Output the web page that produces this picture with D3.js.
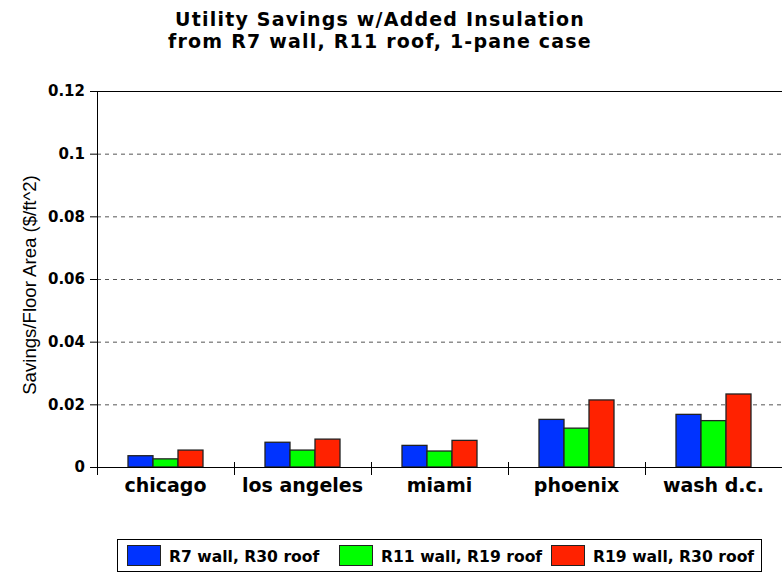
<!DOCTYPE html>
<html>
<head>
<meta charset="utf-8">
<script src="https://cdn.jsdelivr.net/npm/d3@7"></script>
<style>
  body { margin: 0; background: #fff; }
  text { font-family: "DejaVu Sans", sans-serif; }
</style>
</head>
<body>
<div id="chart"></div>
<script>
// data
var cities = ["chicago", "los angeles", "miami", "phoenix", "wash d.c."];
var seriesNames = ["R7 wall, R30 roof", "R11 wall, R19 roof", "R19 wall, R30 roof"];
var seriesColors = ["#0033ff", "#00ff00", "#ff2200"];
var r7r30 = [0.0036, 0.0079, 0.0069, 0.0152, 0.0168];
var r11r19 = [0.0026, 0.0054, 0.0051, 0.0124, 0.0148];
var r19r30 = [0.0054, 0.0089, 0.0085, 0.0214, 0.0233];
var yTicks = [0, 0.02, 0.04, 0.06, 0.08, 0.1, 0.12];
var titleLines = ["Utility Savings w/Added Insulation", "from R7 wall, R11 roof, 1-pane case"];

var series = [r7r30, r11r19, r19r30];

var W = 782, H = 579;
var margin = { top: 91, right: 0, bottom: 112, left: 97 },
  width = W - margin.left - margin.right,
  height = H - margin.top - margin.bottom;

var svg = d3.select("#chart")
  .append("svg")
  .attr("width", W)
  .attr("height", H);

// title, one text per line
svg.selectAll(".titletext")
  .data(titleLines)
  .enter()
  .append("text")
  .attr("class", "titletext")
  .attr("x", 380)
  .attr("y", (d, i) => 26 + i * 22)
  .attr("text-anchor", "middle")
  .attr("font-size", "19px")
  .attr("letter-spacing", "1.2px")
  .attr("font-weight", "bold")
  .text(d => d);

var g = svg.append("g")
  .attr("transform", "translate(" + margin.left + "," + margin.top + ")");

var x = d3.scaleBand().domain(cities).range([0, width]);
var y = d3.scaleLinear().domain([0, 0.12]).range([height, 0]);

var barW = 25;
var xs = d3.scaleBand().domain(d3.range(3)).range([0, barW * 3]);

// grid lines
g.selectAll(".grid")
  .data(yTicks.filter(d => d > 0 && d < 0.12))
  .enter()
  .append("line")
  .attr("x1", 0)
  .attr("x2", width)
  .attr("y1", d => y(d) + 0.5)
  .attr("y2", d => y(d) + 0.5)
  .attr("stroke", "#555")
  .attr("stroke-dasharray", "4,4");

// top border
g.append("line")
  .attr("x1", 0).attr("x2", width)
  .attr("y1", 0.5).attr("y2", 0.5)
  .attr("stroke", "#000");

// bars
series.forEach(function(vals, si) {
  g.selectAll(".bar" + si)
    .data(vals)
    .enter()
    .append("rect")
    .attr("x", (d, i) => x(cities[i]) + x.bandwidth() / 2 - barW * 1.5 + xs(si))
    .attr("y", d => y(d))
    .attr("width", barW)
    .attr("height", d => height - y(d))
    .attr("fill", seriesColors[si])
    .attr("stroke", "#222")
    .attr("stroke-width", 1.3);
});

// y axis
var yAxis = g.append("g")
  .call(d3.axisLeft(y).tickValues(yTicks).tickFormat(d => d === 0 ? "0" : d3.format("~g")(d)).tickSize(7).tickPadding(5));
yAxis.select(".domain").remove();
yAxis.append("line").attr("x1", 0.5).attr("x2", 0.5).attr("y1", 0).attr("y2", height + 8).attr("stroke", "#000");
yAxis.selectAll("text")
  .attr("font-size", "15px")
  .attr("font-weight", "bold")
  .attr("fill", "#000")
  .style("font-family", "'DejaVu Sans', sans-serif");

// x axis
var xAxis = g.append("g").attr("transform", "translate(0," + height + ")");
xAxis.append("line").attr("x1", 0).attr("x2", width).attr("y1", 0.5).attr("y2", 0.5).attr("stroke", "#000");
xAxis.selectAll(".sep")
  .data(cities.slice(1))
  .enter()
  .append("line")
  .attr("x1", d => x(d) + 0.5)
  .attr("x2", d => x(d) + 0.5)
  .attr("y1", -5)
  .attr("y2", 8)
  .attr("stroke", "#000");
xAxis.selectAll(".lbl")
  .data(cities)
  .enter()
  .append("text")
  .attr("x", d => x(d) + x.bandwidth() / 2)
  .attr("y", 25)
  .attr("text-anchor", "middle")
  .attr("font-size", "19px")
  .attr("font-weight", "bold")
  .text(d => d);

// y label
svg.append("text")
  .attr("transform", "translate(36,285) rotate(-90)")
  .attr("text-anchor", "middle")
  .attr("font-size", "18.6px")
  .style("font-family", "'Liberation Sans', Arial, sans-serif")
  .text("Savings/Floor Area ($/ft^2)");

// legend
var leg = svg.append("g");
leg.append("rect")
  .attr("x", 117.5).attr("y", 539.5)
  .attr("width", 644).attr("height", 32)
  .attr("fill", "#fff").attr("stroke", "#000");
var legX = [127, 339, 551];
seriesNames.forEach(function(name, i) {
  leg.append("rect")
    .attr("x", legX[i] + 0.5).attr("y", 545.5)
    .attr("width", 33).attr("height", 20)
    .attr("fill", seriesColors[i]).attr("stroke", "#222");
  leg.append("text")
    .attr("x", legX[i] + 42).attr("y", 562)
    .attr("font-size", "15.6px")
    .attr("font-weight", "bold")
    .text(name);
});
</script>
</body>
</html>
